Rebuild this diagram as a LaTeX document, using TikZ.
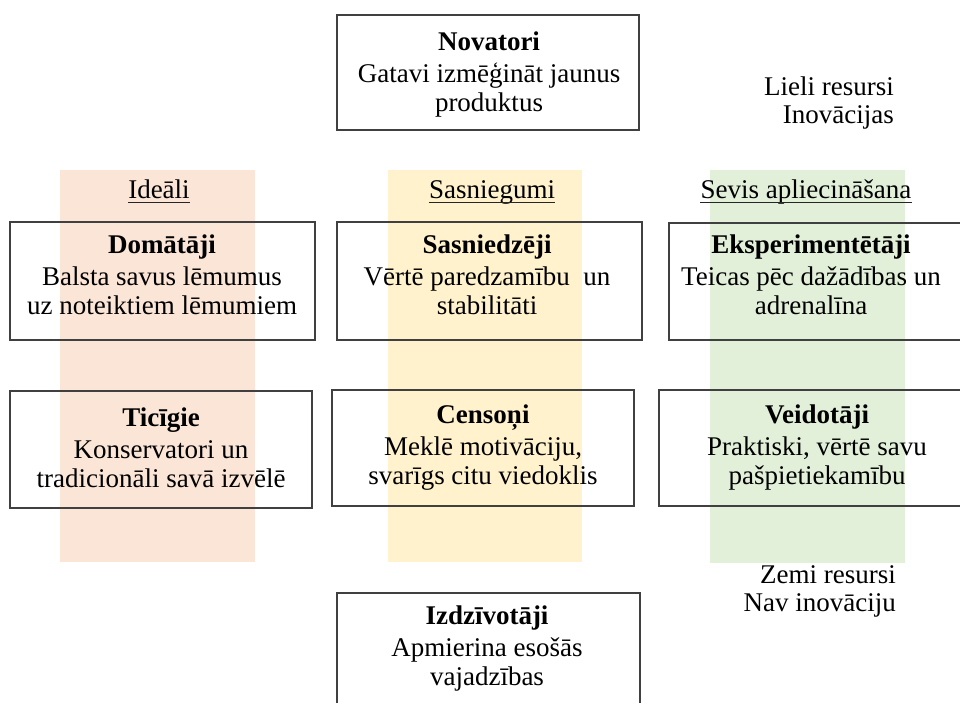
\documentclass[tikz,border=0pt]{standalone}
\usepackage{fontspec}
\setmainfont{Liberation Serif}
\definecolor{bandorange}{HTML}{FBE5D6}
\definecolor{bandyellow}{HTML}{FFF2CC}
\definecolor{bandgreen}{HTML}{E2F0D9}
\definecolor{boxline}{HTML}{404040}
\begin{document}
\begin{tikzpicture}[x=1pt,y=-1pt,
  box/.style={draw=boxline, line width=1.2pt, inner sep=0pt, rectangle},
  txt/.style={font=\fontsize{27}{29}\selectfont, align=center, inner sep=0pt, text=black},
  head/.style={font=\fontsize{27}{29}\selectfont, inner sep=0pt, anchor=base, text=black},
  side/.style={font=\fontsize{27}{28}\selectfont, align=right, inner sep=0pt, anchor=east, text=black},
  uline/.style={line width=1.2pt, draw=black!85}
]
\useasboundingbox (0,0) rectangle (960,702);
% colour bands
\fill[bandorange] (60,170) rectangle (255,562);
\fill[bandyellow] (388,170) rectangle (582,562);
\fill[bandgreen] (710,170) rectangle (905,563);
% boxes
\node[box, minimum width=302pt, minimum height=115pt] (novbox) at (488,72.5) {};
\node[box, minimum width=305pt, minimum height=118pt] (dombox) at (162.5,281) {};
\node[box, minimum width=305pt, minimum height=118pt] (sasbox) at (489.5,281) {};
\node[box, minimum width=296pt, minimum height=117pt] (eksbox) at (817,281.5) {};
\node[box, minimum width=302pt, minimum height=117pt] (ticbox) at (161,449.5) {};
\node[box, minimum width=302pt, minimum height=116pt] (cenbox) at (483,448) {};
\node[box, minimum width=306pt, minimum height=116pt] (veibox) at (812,448) {};
\node[box, minimum width=303pt, minimum height=117pt] (izdbox) at (488.5,651.5) {};
% box texts
\node[txt] (nov) at (489,74.7) {\strut\textbf{Novatori}\\[3pt]Gatavi izmēģināt jaunus\\produktus\strut};
\node[txt] (dom) at (162,277.7) {\strut\textbf{Domātāji}\\[3pt]Balsta savus lēmumus\\uz noteiktiem lēmumiem\strut};
\node[txt] (sas) at (487,277.7) {\strut\textbf{Sasniedzēji}\\[3pt]Vērtē paredzamību\ \ un\\stabilitāti\strut};
\node[txt] (eks) at (811,277.7) {\strut\textbf{Eksperimentētāji}\\[3pt]Teicas pēc dažādības un\\adrenalīna\strut};
\node[txt] (tic) at (161,450.7) {\strut\textbf{Ticīgie}\\[3pt]Konservatori un\\tradicionāli savā izvēlē\strut};
\node[txt] (cen) at (483,447.7) {\strut\textbf{Censoņi}\\[3pt]Meklē motivāciju,\\svarīgs citu viedoklis\strut};
\node[txt] (vei) at (817,447.7) {\strut\textbf{Veidotāji}\\[3pt]Praktiski, vērtē savu\\pašpietiekamību\strut};
\node[txt] (izd) at (487,648.7) {\strut\textbf{Izdzīvotāji}\\[3pt]Apmierina esošās\\vajadzības\strut};
% column headings
\node[head] (ideali) at (159,198) {Ideāli};
\node[head] (sasn) at (492,198) {Sasniegumi};
\node[head] (sevis) at (806,198) {Sevis apliecināšana};
\draw[uline] ([yshift=-4.5pt]ideali.base west) -- ([yshift=-4.5pt]ideali.base east);
\draw[uline] ([yshift=-4.5pt]sasn.base west) -- ([yshift=-4.5pt]sasn.base east);
\draw[uline] ([yshift=-4.5pt]sevis.base west) -- ([yshift=-4.5pt]sevis.base east);
% side labels
\node[side] (lieli) at (894,103.4) {\strut Lieli resursi\\Inovācijas\strut};
\node[side] (zemi) at (896,591.4) {\strut Zemi resursi\\Nav inovāciju\strut};
\end{tikzpicture}
\end{document}
